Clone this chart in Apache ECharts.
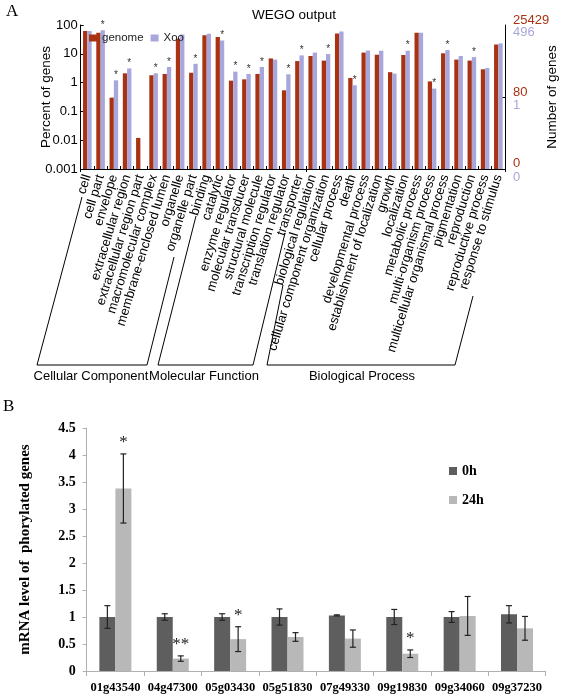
<!DOCTYPE html>
<html><head><meta charset="utf-8">
<script src="https://cdn.jsdelivr.net/npm/echarts@6/dist/echarts.min.js"></script>
<style>html,body{margin:0;padding:0;background:#fff}#c{width:567px;height:696px}</style>
</head><body><div id="c"></div>
<script>
// ---------- Panel A data ----------
const goCategories = ['cell','cell part','envelope','extracellular region','extracellular region part','macromolecular complex','membrane-enclosed lumen','organelle','organelle part','binding','catalytic','enzyme regulator','molecular transducer','structural molecule','transcription regulator','translation regulator','transporter','biological regulation','cellular component organization','cellular process','death','developmental process','establishment of localization','growth','localization','metabolic process','multi-organism process','multicellular organismal process','pigmentation','reproduction','reproductive process','response to stimulus'];
const genomePct = [62, 54, 0.30, 2.1, 0.012, 1.8, 2.0, 33, 2.2, 44, 38, 1.17, 1.3, 2.0, 6.9, 0.54, 5.6, 8.4, 5.8, 51, 1.45, 11, 9.3, 2.3, 9.1, 54, 1.1, 10.4, 6.3, 5.8, 2.9, 21];
const xooPct = [62, 66, 1.2, 3.1, null, 2.1, 3.5, 47, 4.5, 50, 29, 2.4, 2.0, 3.5, 6.3, 1.95, 8.8, 11, 9.8, 60, 0.81, 13, 12.8, 2.05, 12.8, 54, 0.62, 13.5, 8.4, 7.7, 3.2, 23];
const xooStar = [0,1,1,1,0,1,1,0,1,0,1,1,1,1,0,1,1,0,1,0,1,0,0,0,1,0,1,1,0,1,0,0];
const percentTicks = ['0.001','0.01','0.1','1','10','100'];
const groupNames = ['Cellular Component','Molecular Function','Biological Process'];
const genomeTotal = 25429, xooTotal = 496;

// ---------- Panel B data ----------
const genes = ['01g43540','04g47300','05g03430','05g51830','07g49330','09g19830','09g34060','09g37230'];
const h0 = [1.00, 1.00, 1.00, 1.00, 1.03, 1.00, 1.00, 1.05];
const h0Err = [0.21, 0.06, 0.06, 0.15, 0.01, 0.14, 0.10, 0.16];
const h24 = [3.38, 0.23, 0.59, 0.63, 0.60, 0.32, 1.02, 0.79];
const h24Err = [0.64, 0.05, 0.23, 0.08, 0.16, 0.07, 0.36, 0.22];
const h24Star = ['*','**','*','','','*','',''];

const SANS = 'Liberation Sans';
const SERIF = 'Liberation Serif';
const BROWN = '#A83212', LAV = '#A8A7DC';
const logv = v => (v == null || v <= 0) ? null : Math.log10(v) + 3;
const BW_B = 16;

const chart = echarts.init(document.getElementById('c'));

const errData = [];
h0.forEach((v, i) => errData.push([i, v + h0Err[i], v - h0Err[i], 0]));
h24.forEach((v, i) => errData.push([i, v + h24Err[i], v - h24Err[i], 1]));

const option = {
  animation: false,
  textStyle: { fontFamily: SANS },
  grid: [
    { left: 80.7, right: 55.3, top: 25, height: 144 },
    { left: 86.7, width: 459, top: 428, height: 243 }
  ],
  legend: [
    { data: ['genome', 'Xoo'], left: 84, top: 27, icon: 'rect', itemWidth: 8, itemHeight: 7, itemGap: 7,
      textStyle: { fontFamily: SANS, fontSize: 11.5, color: '#222' } },
    { data: ['0h', '24h'], orient: 'vertical', left: 444, top: 459, icon: 'rect', itemWidth: 8, itemHeight: 8, itemGap: 15,
      textStyle: { fontFamily: SERIF, fontSize: 14, fontWeight: 'bold', color: '#000' } }
  ],
  xAxis: [
    { type: 'category', gridIndex: 0, data: goCategories,
      axisLine: { lineStyle: { color: '#000', width: 1 } },
      axisTick: { show: true, inside: true, length: 3, lineStyle: { color: '#000' } },
      axisLabel: { interval: 0, rotate: 73, fontFamily: SANS, fontSize: 13, color: '#000', margin: 6, hideOverlap: false } },
    { type: 'category', gridIndex: 0, position: 'top', data: goCategories,
      axisLine: { show: true, lineStyle: { color: '#000', width: 1 } },
      axisTick: { show: true, inside: true, length: 3, lineStyle: { color: '#000' } },
      axisLabel: { show: false } },
    { type: 'category', gridIndex: 1, data: genes,
      axisLine: { lineStyle: { color: '#b0b0b0', width: 1 } },
      axisTick: { show: true, length: 5, lineStyle: { color: '#b0b0b0' } },
      axisLabel: { interval: 0, fontFamily: SERIF, fontWeight: 'bold', fontSize: 12.5, color: '#000', margin: 10 } }
  ],
  yAxis: [
    { type: 'value', gridIndex: 0, min: 0, max: 5, interval: 1,
      name: 'Percent of genes', nameLocation: 'middle', nameRotate: 90, nameGap: 27, nameMoveOverlap: false,
      nameTextStyle: { fontFamily: SANS, fontSize: 13.5, color: '#000' },
      axisLine: { show: true, lineStyle: { color: '#000' } },
      axisTick: { show: true, inside: true, length: 3, lineStyle: { color: '#000' } },
      splitLine: { show: false },
      axisLabel: { formatter: v => percentTicks[Math.round(v)], fontFamily: SANS, fontSize: 13, color: '#000', margin: 3 } },
    { type: 'value', gridIndex: 0, min: 0, max: 5, position: 'right',
      name: 'Number of genes', nameLocation: 'middle', nameRotate: 90, nameGap: 40, nameMoveOverlap: false,
      nameTextStyle: { fontFamily: SANS, fontSize: 13.5, color: '#000' },
      axisLine: { show: true, lineStyle: { color: '#000' } },
      axisTick: { show: true, inside: true, length: 3, customValues: [logv(80 / genomeTotal * 100)], lineStyle: { color: '#000' } },
      splitLine: { show: false },
      axisLabel: { show: false } },
    { type: 'value', gridIndex: 1, min: 0, max: 4.5, interval: 0.5,
      name: 'mRNA level of  phorylated genes', nameLocation: 'middle', nameRotate: 90, nameGap: 54, nameMoveOverlap: false,
      nameTextStyle: { fontFamily: SERIF, fontSize: 15, fontWeight: 'bold', color: '#000' },
      axisLine: { show: true, lineStyle: { color: '#b0b0b0' } },
      axisTick: { show: true, length: 4, lineStyle: { color: '#b0b0b0' } },
      splitLine: { show: false },
      axisLabel: { fontFamily: SERIF, fontWeight: 'bold', fontSize: 14, color: '#000', margin: 11 } }
  ],
  series: [
    { name: 'genome', type: 'bar', xAxisIndex: 0, yAxisIndex: 0, barWidth: 4.3, barGap: '0%',
      itemStyle: { color: BROWN }, data: genomePct.map(logv) },
    { name: 'Xoo', type: 'bar', xAxisIndex: 0, yAxisIndex: 0, barWidth: 4.3, barGap: '0%',
      itemStyle: { color: LAV },
      data: xooPct.map((v, i) => ({ value: logv(v),
        label: { show: !!xooStar[i], position: 'top', distance: 0, formatter: '*', fontSize: 10, color: '#333', fontFamily: SANS } })) },
    { name: '0h', type: 'bar', xAxisIndex: 2, yAxisIndex: 2, barWidth: BW_B, barGap: '0%',
      itemStyle: { color: '#5e5e5e' }, data: h0 },
    { name: '24h', type: 'bar', xAxisIndex: 2, yAxisIndex: 2, barWidth: BW_B, barGap: '0%',
      itemStyle: { color: '#b8b8b8' }, data: h24 },
    { name: 'err', type: 'custom', xAxisIndex: 2, yAxisIndex: 2, z: 10, data: errData,
      encode: { x: 0, y: [1, 2] },
      renderItem: (params, api) => {
        const idx = api.value(0), hi = api.value(1), lo = api.value(2), side = api.value(3);
        const pHi = api.coord([idx, hi]), pLo = api.coord([idx, lo]);
        const x = pHi[0] + (side ? 1 : -1) * BW_B / 2;
        const cap = 3, st = { stroke: '#222', lineWidth: 1.2 };
        const children = [
          { type: 'line', shape: { x1: x, y1: pHi[1], x2: x, y2: pLo[1] }, style: st },
          { type: 'line', shape: { x1: x - cap, y1: pHi[1], x2: x + cap, y2: pHi[1] }, style: st },
          { type: 'line', shape: { x1: x - cap, y1: pLo[1], x2: x + cap, y2: pLo[1] }, style: st }
        ];
        if (side) {
          const s = h24Star[idx];
          if (s) children.push({ type: 'text', x: x, y: pHi[1] - 3,
            style: { text: s, fontFamily: SERIF, fontSize: 17, fill: '#222', align: 'center', verticalAlign: 'bottom' } });
        }
        return { type: 'group', children };
      } }
  ],
  graphic: [
    { type: 'text', left: 6, top: 3, style: { text: 'A', font: '17px "Liberation Serif"', fill: '#000' } },
    { type: 'text', left: 3, top: 398, style: { text: 'B', font: '17px "Liberation Serif"', fill: '#000' } },
    { type: 'text', x: 294, y: 15, style: { text: 'WEGO output', font: '13.5px "Liberation Sans"', fill: '#000', align: 'center', verticalAlign: 'middle' } },
    { type: 'text', x: 513, y: 20, style: { text: String(genomeTotal), font: '13px "Liberation Sans"', fill: BROWN, verticalAlign: 'middle' } },
    { type: 'text', x: 513, y: 32.5, style: { text: String(xooTotal), font: '13px "Liberation Sans"', fill: LAV, verticalAlign: 'middle' } },
    { type: 'text', x: 513, y: 92, style: { text: '80', font: '13px "Liberation Sans"', fill: BROWN, verticalAlign: 'middle' } },
    { type: 'text', x: 513, y: 105, style: { text: '1', font: '13px "Liberation Sans"', fill: LAV, verticalAlign: 'middle' } },
    { type: 'text', x: 513, y: 163.5, style: { text: '0', font: '13px "Liberation Sans"', fill: BROWN, verticalAlign: 'middle' } },
    { type: 'text', x: 513, y: 177, style: { text: '0', font: '13px "Liberation Sans"', fill: LAV, verticalAlign: 'middle' } },
    { type: 'polyline', shape: { points: [[82, 197], [37, 365], [147, 365], [174, 257]] }, style: { stroke: '#000', lineWidth: 1, fill: null } },
    { type: 'polyline', shape: { points: [[196, 216], [158, 365], [253, 365], [285, 233]] }, style: { stroke: '#000', lineWidth: 1, fill: null } },
    { type: 'polyline', shape: { points: [[283, 285], [267, 365], [455, 365], [473, 296]] }, style: { stroke: '#000', lineWidth: 1, fill: null } },
    { type: 'text', x: 91, y: 376, style: { text: groupNames[0], font: '13px "Liberation Sans"', fill: '#000', align: 'center', verticalAlign: 'middle' } },
    { type: 'text', x: 204, y: 376, style: { text: groupNames[1], font: '13px "Liberation Sans"', fill: '#000', align: 'center', verticalAlign: 'middle' } },
    { type: 'text', x: 362, y: 376, style: { text: groupNames[2], font: '13px "Liberation Sans"', fill: '#000', align: 'center', verticalAlign: 'middle' } }
  ]
};
chart.setOption(option);
</script>
</body></html>
